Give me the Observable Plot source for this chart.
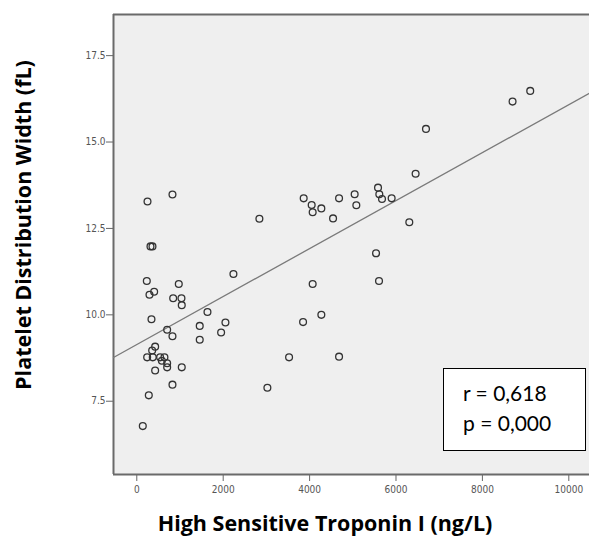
<!DOCTYPE html>
<html>
<head>
<meta charset="utf-8">
<script src="https://cdn.jsdelivr.net/npm/d3@7"></script>
<script src="https://cdn.jsdelivr.net/npm/@observablehq/plot@0.6"></script>
<style>
  html, body { margin: 0; padding: 0; background: #fff; }
  #wrap { position: relative; width: 589px; height: 540px; overflow: hidden; }
  .title {
    position: absolute; white-space: nowrap; line-height: 1;
    font-family: "Open Sans", Lato, sans-serif; font-weight: bold; font-size: 21.5px; color: #000;
  }
  #xtitle { left: 325px; top: 523px; transform: translate(-50%, -50%); }
  #ytitle { left: 23px; top: 225px; transform: translate(-50%, -50%) rotate(-90deg); }
  #stats {
    position: absolute; left: 443px; top: 368px; width: 141px; height: 81px;
    border: 1px solid #000; background: #fff; box-sizing: content-box;
    font-family: Lato, "Open Sans", sans-serif; font-size: 21px; color: #000; line-height: 1;
  }
  #stats div { position: absolute; left: 19px; }
</style>
</head>
<body>
<div id="wrap">
  <div id="chart"></div>
  <div id="xtitle" class="title"></div>
  <div id="ytitle" class="title"></div>
  <div id="stats"><div id="r" style="top:13px"></div><div id="p" style="top:43px"></div></div>
</div>
<script>
// Data
const troponin = [139, 278, 826, 425, 1041, 703, 703, 240, 370, 540, 640, 580, 356, 425, 826, 703, 340,
  1457, 1457, 1952, 2052, 1636, 294, 402, 232, 972, 842, 1034, 1041, 2237, 317, 363, 248, 826, 2838,
  3023, 3525, 3849, 4071, 4272, 4682, 5607, 5538, 3863, 4048, 4071, 4272, 4543, 4682, 5043, 5082,
  5584, 5614, 5676, 5899, 6308, 6454, 6694, 8698, 9107];
const pdw = [6.78, 7.67, 7.98, 8.39, 8.48, 8.48, 8.60, 8.77, 8.77, 8.77, 8.77, 8.67, 8.97, 9.08, 9.38, 9.57, 9.87,
  9.28, 9.68, 9.49, 9.78, 10.08, 10.58, 10.67, 10.98, 10.89, 10.48, 10.48, 10.28, 11.18, 11.98, 11.98, 13.28, 13.48, 12.78,
  7.89, 8.77, 9.79, 10.89, 10.0, 8.79, 10.98, 11.78, 13.37, 13.18, 12.97, 13.08, 12.79, 13.37, 13.49, 13.17,
  13.68, 13.49, 13.35, 13.37, 12.68, 14.08, 15.38, 16.17, 16.48];
const xTicks = [0, 2000, 4000, 6000, 8000, 10000];
const yTicks = [7.5, 10.0, 12.5, 15.0, 17.5];
const fitIntercept = 9.14;
const fitSlope = 0.000694;
const xTitle = "High Sensitive Troponin I (ng/L)";
const yTitle = "Platelet Distribution Width (fL)";
const statR = "r = 0,618";
const statP = "p = 0,000";

const xDomain = [-539, 10479];
const yDomain = [5.38, 18.69];

const points = troponin.map((x, i) => ({x, y: pdw[i]}));
const fit = xDomain.map(x => ({x, y: fitIntercept + fitSlope * x}));

const tickFont = "'Liberation Sans Narrow', 'DejaVu Sans Condensed', sans-serif";

const chart = Plot.plot({
  width: 589,
  height: 540,
  marginTop: 14,
  marginBottom: 66,
  marginLeft: 113,
  marginRight: 0,
  style: {background: "white"},
  x: {domain: xDomain},
  y: {domain: yDomain},
  marks: [
    Plot.frame({fill: "#efefef", stroke: null}),
    Plot.axisX({ticks: xTicks, tickSize: 7, tickPadding: 4, tickFormat: d => String(d),
      label: null, fontSize: 10, fontFamily: tickFont, stroke: "#666", fill: "#555"}),
    Plot.axisY({ticks: yTicks, tickSize: 7, tickPadding: 1, tickFormat: d => d.toFixed(1),
      label: null, fontSize: 10, fontFamily: tickFont, stroke: "#666", fill: "#555"}),
    Plot.ruleX([xDomain[0]], {stroke: "#6a6a6a", strokeWidth: 2}),
    Plot.ruleY(yDomain, {stroke: "#6a6a6a", strokeWidth: 2}),
    Plot.line(fit, {x: "x", y: "y", stroke: "#7a7a7a", strokeWidth: 1.3}),
    Plot.dot(points, {x: "x", y: "y", r: 3.4, stroke: "#333", strokeWidth: 1.3, fill: "none"})
  ]
});
document.getElementById("chart").appendChild(chart);
document.getElementById("xtitle").textContent = xTitle;
document.getElementById("ytitle").textContent = yTitle;
document.getElementById("r").textContent = statR;
document.getElementById("p").textContent = statP;
</script>
</body>
</html>
